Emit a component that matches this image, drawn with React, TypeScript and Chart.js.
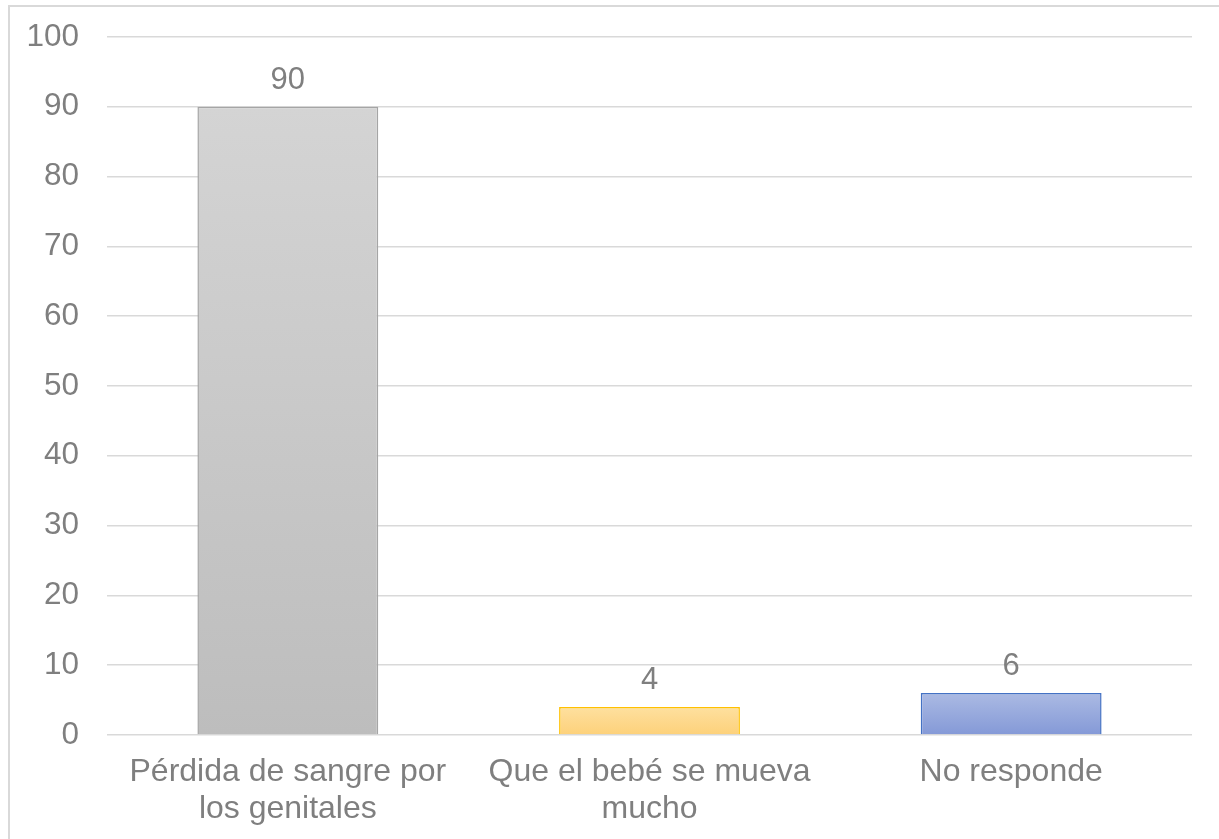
import React, { useEffect, useRef } from "react";
import { Chart, registerables } from "chart.js";

Chart.register(...registerables);

const categories: string[][] = [
  ["Pérdida de sangre por", "los genitales"],
  ["Que el bebé se mueva", "mucho"],
  ["No responde"],
];
const values: number[] = [90, 4, 6];
const gradientTop: string[] = ["#d4d4d4", "#fee09f", "#abbae3"];
const gradientBottom: string[] = ["#bdbdbd", "#fdd17a", "#8499d7"];
const borderColors: string[] = ["#a5a5a5", "#ffc000", "#4472c4"];
const yMin = 0;
const yMax = 100;
const yStep = 10;

const FONT = "'Liberation Sans', Arial, sans-serif";
const TEXT = "#7f7f7f";

const valueLabels = {
  id: "valueLabels",
  afterDatasetsDraw(chart: any) {
    const ctx = chart.ctx;
    const meta = chart.getDatasetMeta(0);
    ctx.save();
    ctx.font = `31px ${FONT}`;
    ctx.fillStyle = TEXT;
    ctx.textAlign = "center";
    ctx.textBaseline = "alphabetic";
    meta.data.forEach((bar: any, i: number) => {
      ctx.fillText(String(values[i]), bar.x, bar.y - 18);
    });
    ctx.restore();
  },
};

export default function App() {
  const ref = useRef<HTMLCanvasElement | null>(null);
  useEffect(() => {
    if (!ref.current) return;
    const chart = new Chart(ref.current, {
      type: "bar",
      data: {
        labels: categories as any,
        datasets: [
          {
            data: values,
            backgroundColor: (c: any) => {
              const ch = c.chart;
              const i = c.dataIndex;
              const y = ch.scales && ch.scales.y;
              if (!ch.chartArea || !y || i === undefined) return gradientTop[i ?? 0];
              const top = y.getPixelForValue(values[i]);
              const bottom = y.getPixelForValue(0);
              const g = ch.ctx.createLinearGradient(0, top, 0, bottom);
              g.addColorStop(0, gradientTop[i]);
              g.addColorStop(1, gradientBottom[i]);
              return g;
            },
            borderColor: borderColors,
            borderWidth: 1.5,
            barPercentage: 0.5,
            categoryPercentage: 1,
          },
        ],
      },
      options: {
        responsive: false,
        animation: false,
        layout: { padding: { left: 0, right: 27, top: 37, bottom: 0 } },
        plugins: { legend: { display: false }, tooltip: { enabled: false } },
        scales: {
          x: {
            grid: { display: false, drawTicks: false },
            border: { display: false },
            ticks: {
              color: TEXT,
              font: { family: FONT, size: 32, lineHeight: 1.17 },
              padding: 18,
              maxRotation: 0,
              autoSkip: false,
            },
            afterFit: (s: any) => {
              s.height = 104;
            },
          },
          y: {
            min: yMin,
            max: yMax,
            grid: { color: "#d9d9d9", lineWidth: 1.5, drawTicks: false },
            border: { display: false },
            ticks: {
              stepSize: yStep,
              color: TEXT,
              font: { family: FONT, size: 31.5 },
              padding: 28,
            },
            afterFit: (s: any) => {
              s.width = 107;
              s.paddingTop = 0;
              s.paddingBottom = 0;
            },
          },
        },
      },
      plugins: [valueLabels],
    });
    return () => chart.destroy();
  }, []);

  return (
    <div style={{ position: "fixed", inset: 0, overflow: "hidden", background: "#fff" }}>
      <div
        style={{
          position: "absolute",
          left: 8,
          top: 5,
          width: 1300,
          height: 900,
          borderTop: "2px solid #d9d9d9",
          borderLeft: "2px solid #d9d9d9",
        }}
      />
      <canvas
        ref={ref}
        width={1219}
        height={839}
        style={{ position: "absolute", left: 0, top: 0, width: 1219, height: 839 }}
      />
    </div>
  );
}
